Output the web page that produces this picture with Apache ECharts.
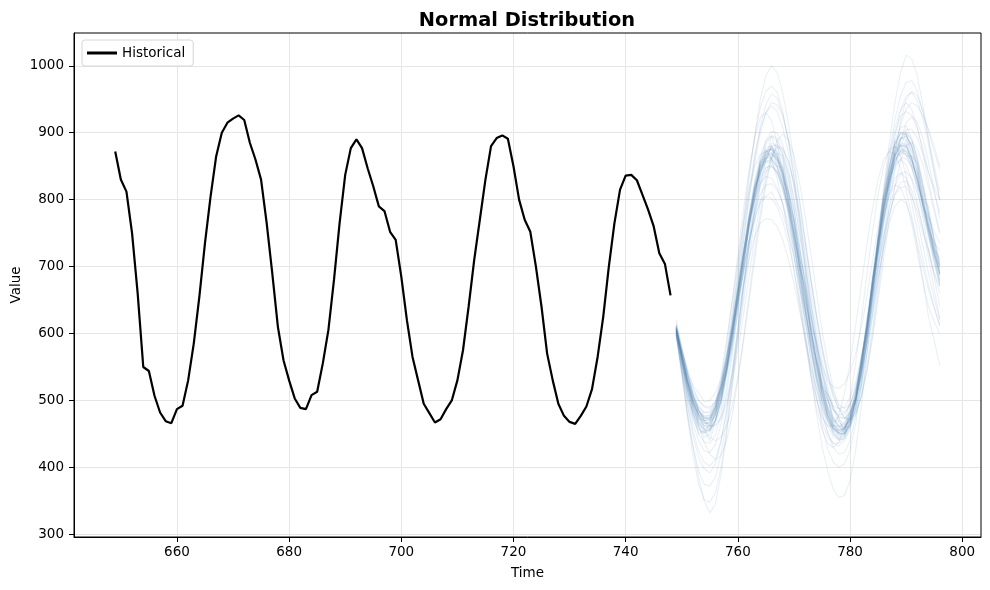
<!DOCTYPE html>
<html>
<head>
<meta charset="utf-8">
<script src="https://cdn.jsdelivr.net/npm/echarts@6/dist/echarts.min.js"></script>
<style>
  html, body { margin: 0; padding: 0; background: #fff; }
  #chart { width: 990px; height: 590px; }
</style>
</head>
<body>
<div id="chart"></div>
<script>
// historical observations, t = 649..748
const histStart = 649
const historical = [
  872, 830, 812, 750, 660, 550, 544, 507, 482, 469,
  466, 487, 492, 530, 585, 655, 735, 805, 865, 900,
  915, 921, 926, 919, 885, 860, 830, 765, 690, 610,
  560, 530, 503, 489, 487, 508, 513, 555, 605, 680,
  765, 837, 877, 890, 877, 847, 820, 790, 783, 752,
  740, 685, 620, 565, 530, 495, 481, 467, 472, 487,
  500, 530, 575, 640, 710, 770, 830, 880, 892, 896,
  891, 850, 800, 770, 752, 700, 640, 570, 530, 495,
  477, 468, 465, 477, 491, 517, 565, 625, 700, 765,
  815, 836, 837, 829, 807, 785, 760, 720, 704, 657
]

// sampled forecast paths, t = 749..796
const sampleStart = 749
const samples = [
  [608,565,522,488,468,458,462,478,508,548,598,652,708,762,808,842,862,868,858,836,802,758,708,658,608,562,522,492,472,462,464,482,512,556,612,672,732,786,828,858,872,872,858,832,798,762,732,702],
  [598,540,480,430,385,350,332,345,390,450,520,590,660,725,785,835,870,885,880,858,820,770,715,660,605,555,510,475,450,440,445,462,498,548,608,672,738,795,842,875,892,890,872,840,800,760,722,690],
  [612,570,532,505,488,478,478,492,522,565,622,690,760,830,895,950,985,1000,990,960,915,860,800,740,680,625,575,535,505,488,482,492,520,562,615,675,738,795,845,880,900,902,888,860,822,780,742,708],
  [602,570,540,515,500,492,490,498,518,548,585,628,672,712,745,765,772,770,760,740,712,675,635,592,552,518,490,470,458,455,460,475,502,540,588,640,695,745,788,820,838,842,832,810,780,748,718,690],
  [600,548,505,472,455,452,465,495,538,590,648,708,765,815,850,868,872,860,832,795,748,695,640,588,540,502,475,462,462,478,510,555,612,672,732,786,830,860,872,868,848,815,775,735,698,665,638,612],
  [610,575,540,508,485,470,462,462,472,495,530,575,628,685,742,795,838,866,878,875,858,826,782,732,680,628,580,540,508,486,474,472,482,505,542,592,650,712,770,820,858,880,886,876,852,818,782,748],
  [605,562,522,492,472,462,460,472,502,545,600,658,718,775,825,860,878,880,868,840,795,738,672,605,540,482,432,395,368,355,358,380,425,490,570,655,740,818,885,945,990,1016,1010,985,940,890,840,800],
  [615,578,545,520,500,490,488,498,522,560,610,662,715,762,800,825,835,832,818,792,758,715,668,620,575,535,502,478,462,455,458,472,498,535,582,632,682,728,765,790,800,795,770,730,680,625,590,552],
  [610,572,535,505,485,475,476,490,518,558,608,662,718,770,815,848,866,870,862,842,812,772,726,678,630,585,545,512,488,475,472,480,502,538,585,642,705,768,826,875,912,935,945,940,925,905,880,850],
  [603,555,510,475,450,438,436,448,478,522,578,640,702,760,810,848,870,876,868,846,810,765,712,658,604,556,515,484,464,455,458,476,510,560,620,685,748,805,852,885,900,898,880,848,808,765,725,690],
  [600,545,495,455,425,408,402,412,440,485,542,605,670,735,792,838,866,878,872,850,815,770,718,664,610,560,518,486,465,456,458,475,508,555,612,675,738,792,838,868,882,880,862,832,794,755,718,685],
  [606,562,525,495,475,466,466,480,506,542,588,640,692,740,780,808,822,824,815,795,765,728,684,638,592,548,510,480,460,450,450,462,488,525,572,625,680,732,776,808,826,828,815,790,758,722,690,660],
  [608,566,528,498,478,470,472,488,520,565,622,685,750,812,865,905,930,940,932,908,870,820,762,702,642,588,540,502,476,462,460,472,502,548,608,675,745,810,865,908,935,945,935,908,870,828,788,752],
  [604,560,518,486,466,456,456,470,500,542,595,652,710,765,812,846,862,864,852,826,788,738,682,622,562,508,462,428,408,400,405,425,465,520,590,665,740,810,870,920,955,975,978,962,930,890,850,812],
  [609,568,530,500,480,470,470,484,512,552,602,656,710,760,802,832,848,850,840,818,788,750,708,665,622,584,552,530,520,518,525,542,570,608,655,708,760,806,842,866,876,872,855,828,795,760,728,700],
  [620,580,540,508,486,474,472,483,510,550,602,660,720,778,828,865,888,895,888,865,830,784,730,675,620,568,522,486,462,450,450,465,496,542,600,664,728,786,834,866,882,880,862,830,790,748,710,676],
  [598,548,502,465,440,425,422,434,464,510,568,632,698,760,815,858,888,902,900,882,848,802,748,690,632,578,530,492,466,452,450,462,490,532,588,652,718,778,830,868,890,895,882,855,818,778,740,705],
  [605,570,528,500,472,470,455,482,498,552,590,660,700,770,805,855,858,880,850,848,795,770,700,672,600,575,515,502,468,470,455,490,500,565,600,680,722,795,820,870,865,885,850,840,790,775,725,712],
  [612,572,536,508,490,482,484,498,526,566,616,670,724,774,816,846,862,862,848,822,784,738,686,632,580,534,496,468,450,444,448,466,498,544,600,662,724,780,826,858,874,874,858,830,794,756,720,688],
  [602,556,514,482,462,452,454,470,502,548,606,672,740,805,862,910,942,958,952,928,888,835,775,712,650,592,542,502,474,460,458,470,500,545,602,665,728,785,830,860,872,868,848,815,772,726,684,640],
  [596,540,482,432,395,375,372,386,420,470,535,605,675,742,802,850,882,896,892,872,836,788,732,672,612,558,512,478,456,448,452,470,505,555,615,680,745,802,850,884,900,898,880,848,808,765,724,688],
  [607,564,526,496,478,470,472,488,518,560,612,668,724,776,820,852,868,870,858,832,796,752,702,650,598,550,510,478,458,450,452,468,498,542,596,656,716,770,814,846,862,862,848,822,790,756,724,696],
  [610,568,530,498,476,466,466,480,510,552,605,662,720,775,822,856,874,876,864,838,800,752,698,642,588,540,500,470,452,446,450,468,502,550,610,678,746,808,860,900,924,932,926,906,876,842,810,780],
  [604,560,520,490,470,462,463,478,506,546,596,650,706,758,804,838,856,860,850,826,790,744,692,638,586,540,502,474,458,452,456,474,508,556,614,676,736,788,828,852,860,852,830,796,756,712,666,622],
  [606,566,530,500,482,474,474,488,514,550,596,645,695,738,772,795,804,802,790,768,736,695,648,598,548,504,468,446,436,436,445,465,498,545,602,664,726,780,824,855,870,868,850,820,782,742,705,672],
  [608,572,536,504,478,458,445,440,445,462,492,535,588,648,710,770,822,862,888,898,890,866,826,776,720,662,606,558,518,490,474,470,480,505,545,598,660,726,790,846,888,915,924,916,892,856,815,772],
  [612,576,542,512,492,482,482,494,520,560,612,672,736,798,855,900,930,945,942,925,892,848,796,740,684,630,582,542,512,494,488,494,515,550,598,656,720,784,844,894,932,955,960,948,920,882,842,800],
  [605,562,522,490,468,458,457,470,498,540,592,650,710,766,816,852,872,876,866,842,805,756,700,640,580,528,484,452,430,420,422,440,475,525,588,656,724,786,836,872,892,894,880,852,814,774,752,735],
  [600,552,515,478,462,445,450,470,495,542,585,655,700,768,800,850,858,882,860,850,795,765,700,665,598,560,510,490,462,462,452,485,500,560,605,678,728,800,825,880,872,890,860,842,790,770,718,700],
  [602,548,492,448,415,398,392,405,438,485,545,610,672,730,780,820,842,850,842,822,790,748,700,648,596,548,508,478,460,452,455,472,505,552,610,672,735,790,835,866,880,878,860,830,792,752,715,680],
  [606,560,515,480,458,450,458,485,528,585,650,718,785,845,892,922,930,918,885,838,780,718,654,592,536,490,456,436,430,438,462,502,556,620,688,752,808,850,875,880,866,836,796,752,710,672,640,612],
  [612,578,542,510,486,470,462,464,476,502,540,590,648,710,770,822,860,880,882,868,840,800,752,700,648,598,552,514,486,468,460,462,478,508,552,608,672,740,808,868,916,950,962,955,932,902,872,845],
  [605,575,548,522,512,498,500,512,530,568,600,650,690,738,770,800,805,812,795,780,748,715,672,632,590,560,528,508,492,488,490,505,528,565,605,652,700,745,780,808,818,820,805,782,750,725,690,670],
  [608,566,528,498,480,472,474,490,520,562,612,666,720,770,812,842,858,860,848,822,788,745,700,652,605,562,525,500,485,478,480,494,520,560,610,665,720,770,808,832,840,832,808,772,730,690,652,620],
  [598,560,505,482,450,455,440,468,488,538,578,648,690,765,800,858,862,895,870,865,810,785,712,688,610,590,520,508,470,475,450,482,498,560,598,685,725,805,830,888,878,900,865,855,800,790,735,725],
  [600,540,475,418,375,352,348,362,400,455,525,598,668,732,786,826,848,852,840,815,778,730,676,620,566,518,480,452,436,432,440,460,496,545,605,670,735,792,838,870,885,882,862,830,790,748,708,672],
  [608,568,530,502,484,476,478,494,526,572,632,700,770,838,895,938,962,970,960,932,888,832,768,700,634,574,522,482,456,442,442,456,488,535,596,664,734,798,850,888,908,910,892,860,820,776,735,698],
  [606,560,518,485,465,455,455,470,500,544,598,658,718,772,820,855,872,874,862,836,798,750,694,636,580,530,490,462,446,442,448,468,502,552,612,678,742,800,848,882,898,896,876,842,800,756,716,678],
  [604,562,524,494,474,466,468,484,514,556,608,664,720,770,812,842,856,856,842,816,780,736,686,634,582,536,498,472,456,452,458,478,512,560,618,678,732,776,808,822,818,798,764,720,676,640,618,600],
  [608,570,534,504,484,474,474,488,516,556,606,660,716,768,812,846,864,868,860,840,810,770,724,676,628,582,542,510,488,476,474,482,504,540,588,646,708,768,820,862,890,905,905,892,868,840,818,800],
  [610,565,530,495,480,462,470,475,515,545,605,645,715,755,820,838,875,862,868,830,810,748,712,650,612,555,520,488,470,458,468,475,515,548,620,665,738,778,835,852,882,865,865,822,800,755,735,690],
  [604,566,528,492,462,438,420,412,418,440,478,530,592,658,722,780,828,862,880,878,858,822,774,720,664,610,562,522,492,472,464,468,486,520,568,628,694,760,818,862,890,900,890,864,826,784,742,702]
]

const xTicks = [660, 680, 700, 720, 740, 760, 780, 800]
const yTicks = [300, 400, 500, 600, 700, 800, 900, 1000]

const FONT = 'DejaVu Sans'

function toPairs(start, arr) {
  return arr.map((v, i) => [start + i, v])
}

let series = samples.map((s, k) => ({
  name: 'sample' + k,
  type: 'line',
  data: toPairs(sampleStart, s),
  showSymbol: false,
  silent: true,
  animation: false,
  lineStyle: { color: 'rgba(70,130,180,0.12)', width: 1.1 },
  z: 1
}))

series.push({
  name: 'Historical',
  type: 'line',
  data: toPairs(histStart, historical),
  showSymbol: false,
  animation: false,
  color: '#000',
  lineStyle: { color: '#000', width: 2.2 },
  z: 5
})

const chart = echarts.init(document.getElementById('chart'), null, { renderer: 'canvas' })

chart.setOption({
  animation: false,
  backgroundColor: '#fff',
  textStyle: { fontFamily: FONT },
  grid: { left: 74, top: 33, right: 9, bottom: 53, containLabel: false, outerBoundsMode: 'none' },
  graphic: [{
    type: 'text',
    x: 527,
    y: 11,
    style: {
      text: 'Normal Distribution',
      font: 'bold 19.4px "DejaVu Sans"',
      fill: '#000',
      textAlign: 'center'
    }
  }, {
    // right and top frame edges, like the matplotlib box
    type: 'rect',
    shape: { x: 74, y: 33, width: 907, height: 504 },
    style: { fill: 'none', stroke: '#000', lineWidth: 1 },
    silent: true,
    z: 100
  }],
  legend: {
    data: ['Historical'],
    left: 82,
    top: 40,
    orient: 'vertical',
    itemWidth: 30,
    itemHeight: 3,
    itemGap: 5,
    padding: [6, 8, 6, 5],
    borderColor: '#d6d6d6',
    borderWidth: 1,
    borderRadius: 3,
    backgroundColor: 'rgba(255,255,255,0.8)',
    icon: 'rect',
    textStyle: { fontFamily: FONT, fontSize: 13.5, color: '#000' }
  },
  xAxis: {
    type: 'value',
    min: 641.65,
    max: 803.35,
    name: 'Time',
    nameLocation: 'middle',
    nameGap: 29,
    nameMoveOverlap: false,
    nameTextStyle: { fontFamily: FONT, fontSize: 13.5, color: '#000' },
    axisLine: { show: true, onZero: false, lineStyle: { color: '#000', width: 1 } },
    axisTick: { show: true, length: 5, inside: false, customValues: xTicks, lineStyle: { color: '#000' } },
    axisLabel: { customValues: xTicks, margin: 8, fontFamily: FONT, fontSize: 13.5, color: '#000', formatter: v => String(v) },
    splitLine: { show: true, lineStyle: { color: '#e6e6e6', width: 1 } }
  },
  yAxis: {
    type: 'value',
    min: 296,
    max: 1049,
    name: 'Value',
    nameLocation: 'middle',
    nameGap: 51,
    nameMoveOverlap: false,
    nameTextStyle: { fontFamily: FONT, fontSize: 13.5, color: '#000' },
    axisLine: { show: true, onZero: false, lineStyle: { color: '#000', width: 1 } },
    axisTick: { show: true, length: 5, inside: false, customValues: yTicks, lineStyle: { color: '#000' } },
    axisLabel: { customValues: yTicks, margin: 10, fontFamily: FONT, fontSize: 13.5, color: '#000', formatter: v => String(v) },
    splitLine: { show: true, lineStyle: { color: '#e6e6e6', width: 1 } }
  },
  series: series
})
</script>
</body>
</html>
